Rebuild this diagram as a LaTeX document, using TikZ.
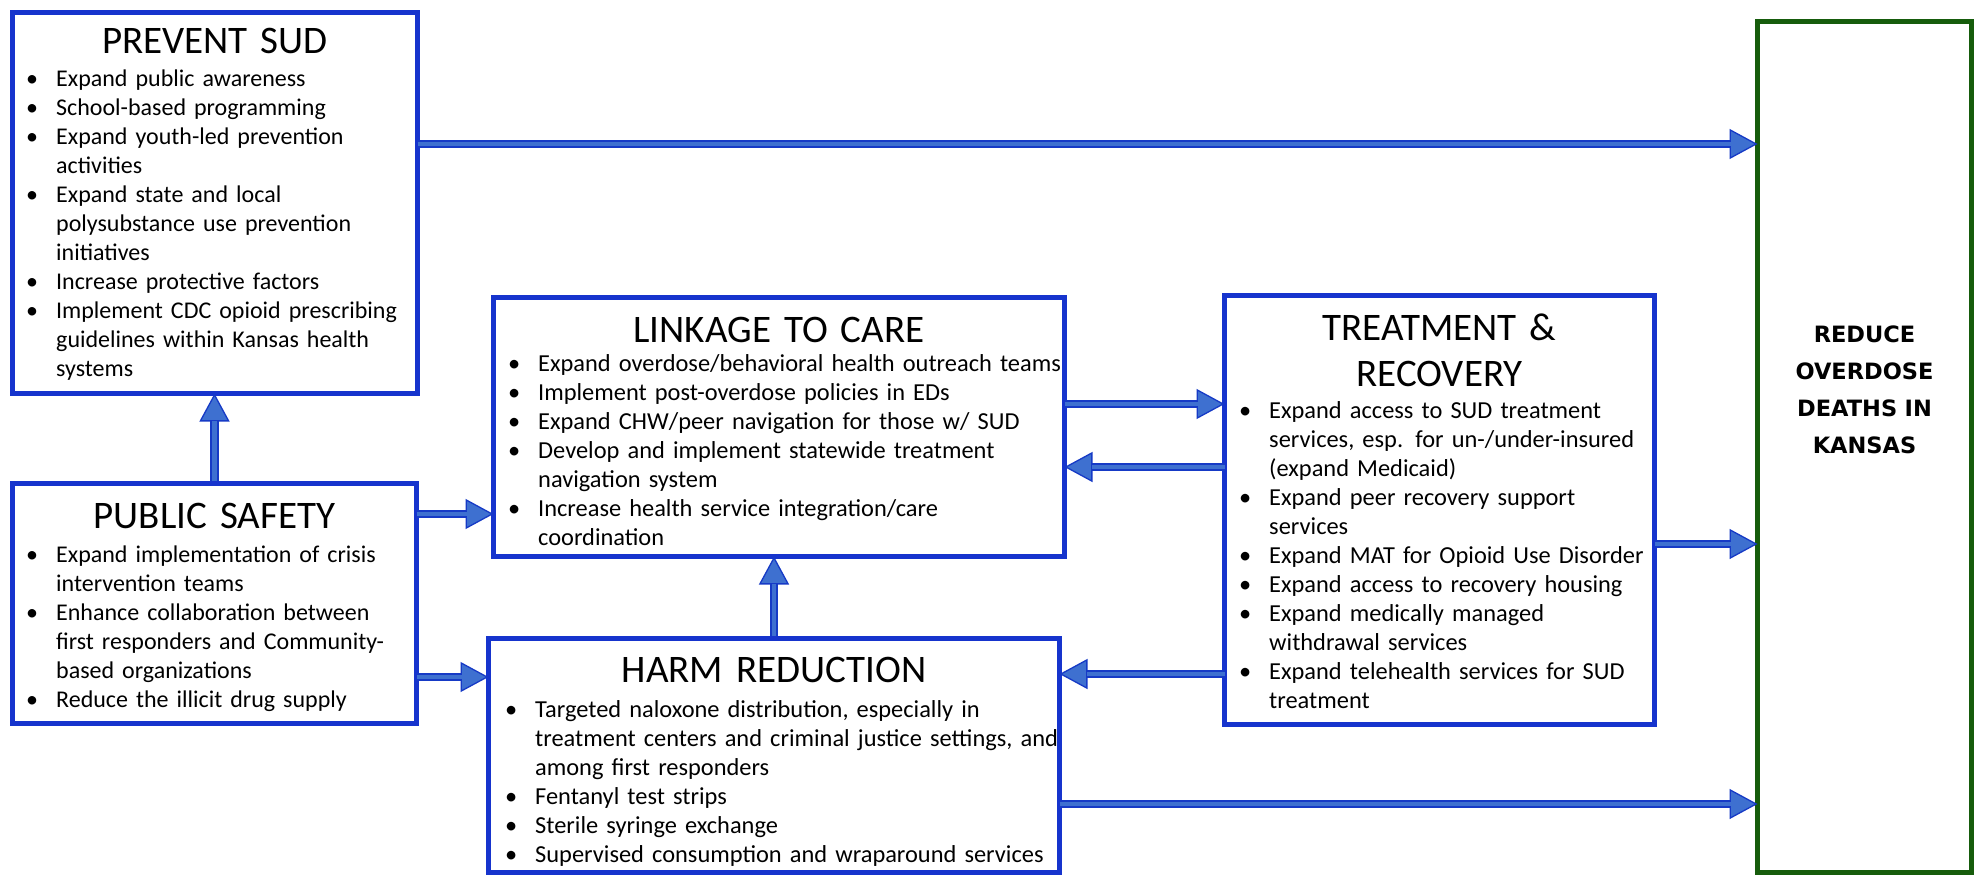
\documentclass[tikz,border=0pt]{standalone}
\usepackage{fontspec}
\setmainfont{Carlito}
\newfontfamily\goalfont{DejaVu Sans}
\usetikzlibrary{arrows.meta}
\definecolor{boxblue}{RGB}{22,52,205}
\definecolor{arrdark}{RGB}{22,58,198}
\definecolor{arrfill}{RGB}{62,112,208}
\definecolor{goalgreen}{RGB}{22,92,12}
\newlength\bind
\setlength\bind{30pt}
\newcommand\bitem[1]{\noindent\hangindent=\bind\hangafter=1\makebox[\bind][l]{\textbullet}#1\par}
\newcommand\listfont{\fontsize{24}{29}\selectfont}
\newcommand\listfontb{\fontsize{24.4}{29}\selectfont}
\tikzset{
  box/.style={draw=boxblue, line width=5.5pt, fill=white, anchor=north west, outer sep=0pt, inner sep=0pt},
  goalbox/.style={draw=goalgreen, line width=5pt, fill=white, anchor=north west, outer sep=0pt, inner sep=0pt},
  boxtitle/.style={anchor=base, inner sep=0pt, font=\fontsize{39}{46}\selectfont, text width=420pt, align=center},
  blist/.style={anchor=base west, inner sep=0pt, text width=560pt, font=\listfont},
  blistb/.style={blist, font=\listfontb},
  goaltext/.style={anchor=base, inner sep=0pt, text width=210pt, align=center, font=\goalfont\bfseries\fontsize{22.5}{37}\selectfont},
  flow/.style={draw=arrdark, line width=8.5pt,
    -{Triangle[length=28pt,width=30pt,fill=arrfill,line width=1.3pt]},
    postaction={draw=arrfill, line width=4.3pt, arrows=-, shorten >=27pt}}
}
\begin{document}
\begin{tikzpicture}[x=1pt,y=-1pt]
\useasboundingbox (0,0) rectangle (1980,883);
\fill[white] (0,0) rectangle (1980,883);

% boxes
\node[box, minimum width=405pt, minimum height=381pt] (prev) at (12.5,12.5) {};
\node[box, minimum width=404pt, minimum height=240pt] (ps) at (12.5,483.5) {};
\node[box, minimum width=571pt, minimum height=259pt] (link) at (493.5,297.5) {};
\node[box, minimum width=571pt, minimum height=234pt] (harm) at (488.5,638.5) {};
\node[box, minimum width=430pt, minimum height=429pt] (treat) at (1224.5,295.5) {};
\node[goalbox, minimum width=214pt, minimum height=851pt] (goal) at (1757.5,21.5) {};

% titles
\node[boxtitle] (prevt) at (prev.north |- 0,53) {PREVENT SUD};
\node[boxtitle] (pst) at (ps.north |- 0,528) {PUBLIC SAFETY};
\node[boxtitle] (linkt) at (link.north |- 0,342) {LINKAGE TO CARE};
\node[boxtitle] (harmt) at (harm.north |- 0,682) {HARM REDUCTION};
\node[boxtitle] (treatt) at (treat.north |- 0,340) {TREATMENT \&\\RECOVERY};

% lists
\node[blist] (prevl) at (26,86) {%
\bitem{Expand public awareness}
\bitem{School-based programming}
\bitem{Expand youth-led prevention\newline activities}
\bitem{Expand state and local\newline polysubstance use prevention\newline initiatives}
\bitem{Increase protective factors}
\bitem{Implement CDC opioid prescribing\newline guidelines within Kansas health\newline systems}};

\node[blist] (psl) at (26,562) {%
\bitem{Expand implementation of crisis\newline intervention teams}
\bitem{Enhance collaboration between\newline first responders and Community-\newline based organizations}
\bitem{Reduce the illicit drug supply}};

\node[blistb] (linkl) at (508,371) {%
\bitem{Expand overdose/behavioral health outreach teams}
\bitem{Implement post-overdose policies in EDs}
\bitem{Expand CHW/peer navigation for those w/ SUD}
\bitem{Develop and implement statewide treatment\newline navigation system}
\bitem{Increase health service integration/care\newline coordination}};

\node[blistb] (harml) at (505,717) {%
\bitem{Targeted naloxone distribution, especially in\newline treatment centers and criminal justice settings, and\newline among first responders}
\bitem{Fentanyl test strips}
\bitem{Sterile syringe exchange}
\bitem{Supervised consumption and wraparound services}};

\node[blistb] (treatl) at (1239,418) {%
\bitem{Expand access to SUD treatment\newline services, esp. for un-/under-insured\newline (expand Medicaid)}
\bitem{Expand peer recovery support\newline services}
\bitem{Expand MAT for Opioid Use Disorder}
\bitem{Expand access to recovery housing}
\bitem{Expand medically managed\newline withdrawal services}
\bitem{Expand telehealth services for SUD\newline treatment}};

\node[goaltext] (goalt) at (goal.north |- 0,342) {REDUCE\\OVERDOSE\\DEATHS IN\\KANSAS};

% connectors
\draw[flow] (prev.east |- 0,144) -- (goal.west |- 0,144);
\draw[flow] (ps.north |- 0,481) -- (ps.north |- prev.south);
\draw[flow] (ps.east |- 0,514) -- (link.west |- 0,514);
\draw[flow] (ps.east |- 0,677) -- (harm.west |- 0,677);
\draw[flow] (harm.north |- 0,636) -- (harm.north |- link.south);
\draw[flow] (link.east |- 0,404) -- (treat.west |- 0,404);
\draw[flow] (treat.west |- 0,467) -- (link.east |- 0,467);
\draw[flow] (treat.west |- 0,674) -- (harm.east |- 0,674);
\draw[flow] (treat.east |- 0,544) -- (goal.west |- 0,544);
\draw[flow] (harm.east |- 0,804) -- (goal.west |- 0,804);
\end{tikzpicture}
\end{document}
